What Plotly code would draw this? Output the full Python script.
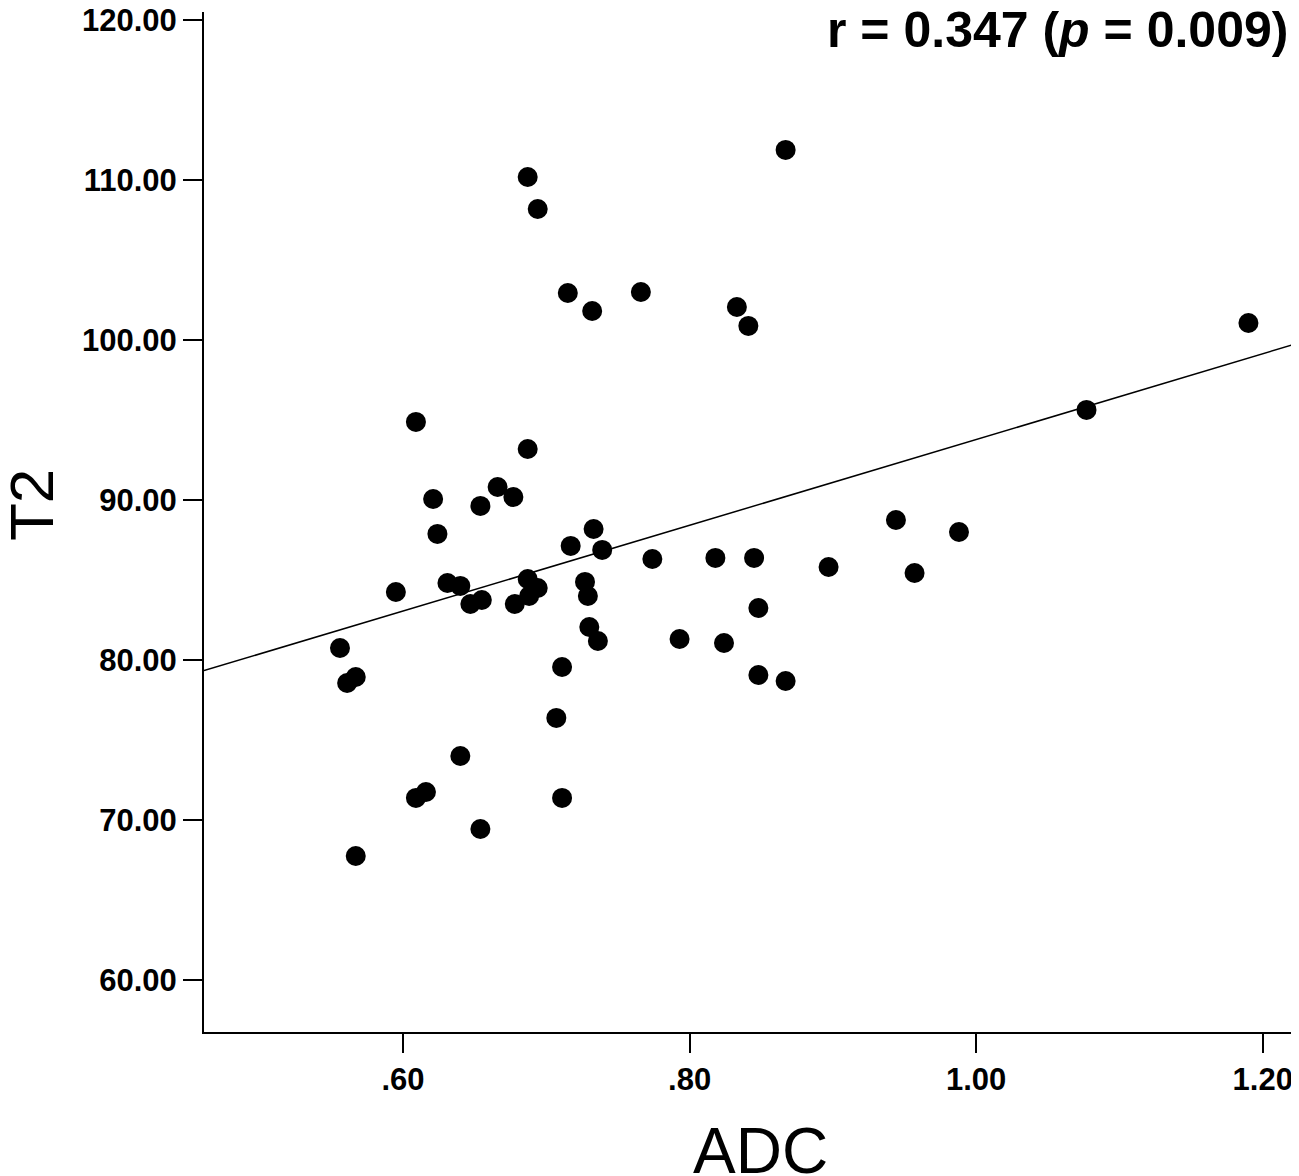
import numpy as np
import plotly.graph_objects as go

adc = [0.556, 0.561, 0.567, 0.567, 0.595, 0.609, 0.609, 0.616, 0.621, 0.624,
       0.631, 0.640, 0.640, 0.647, 0.654, 0.655, 0.654, 0.666, 0.677, 0.678,
       0.687, 0.687, 0.687, 0.688, 0.694, 0.694, 0.707, 0.711, 0.711, 0.717,
       0.715, 0.727, 0.729, 0.730, 0.732, 0.733, 0.736, 0.739, 0.766, 0.774,
       0.793, 0.818, 0.824, 0.833, 0.841, 0.845, 0.848, 0.848, 0.867, 0.867,
       0.897, 0.944, 0.957, 0.988, 1.077, 1.190]
t2 = [80.75, 78.56, 78.94, 67.75, 84.25, 94.88, 71.38, 71.75, 90.06, 87.88,
      84.81, 84.63, 74.00, 83.50, 89.63, 83.75, 69.44, 90.81, 90.19, 83.50,
      110.19, 93.19, 85.06, 84.00, 84.50, 108.19, 76.38, 79.56, 71.38, 87.13,
      102.94, 84.88, 84.00, 82.06, 101.81, 88.19, 81.19, 86.88, 103.00, 86.31,
      81.31, 86.38, 81.06, 102.06, 100.88, 86.38, 83.25, 79.06, 78.69, 111.88,
      85.81, 88.75, 85.44, 88.00, 95.63, 101.06]

x_ticks = [0.6, 0.8, 1.0, 1.2]
x_labels = [".60", ".80", "1.00", "1.20"]
y_ticks = [60, 70, 80, 90, 100, 110, 120]
y_labels = ["60.00", "70.00", "80.00", "90.00", "100.00", "110.00", "120.00"]
annotation_text = "r = 0.347 (<i>p</i> = 0.009)"
x_title = "ADC"
y_title = "T2"

x_range = [0.4611, 1.2239]
y_range = [56.75, 120.5]

slope, intercept = np.polyfit(adc, t2, 1)
fit_x = np.array(x_range)
fit_y = slope * fit_x + intercept

fig = go.Figure()
fig.add_trace(go.Scatter(x=fit_x, y=fit_y, mode="lines",
                         line=dict(color="black", width=1.5), showlegend=False))
fig.add_trace(go.Scatter(x=adc, y=t2, mode="markers",
                         marker=dict(color="black", size=20, line=dict(width=0)),
                         showlegend=False))

tickfont = dict(family="Liberation Sans, Arial, sans-serif",
                size=31, color="black", weight="bold")

axis_common = dict(showline=True, linecolor="black", linewidth=2,
                   ticks="outside", ticklen=19, tickwidth=2, tickcolor="black",
                   showgrid=False, zeroline=False, tickfont=tickfont,
                   ticklabeloverflow="allow", automargin=False)

fig.update_layout(
    width=1291, height=1168,
    margin=dict(l=196, r=2, t=4, b=144),
    paper_bgcolor="white", plot_bgcolor="white",
    xaxis=dict(range=x_range, tickvals=x_ticks, ticktext=x_labels, **axis_common),
    yaxis=dict(range=y_range, tickvals=y_ticks, ticktext=y_labels, **axis_common),
    annotations=[
        dict(text=annotation_text, xref="paper", yref="paper",
             x=0.9936, y=1.0, xanchor="right", yanchor="middle", yshift=-18,
             showarrow=False,
             font=dict(family="Liberation Sans", size=50, color="black", weight="bold")),
        dict(text=x_title, xref="paper", yref="paper",
             x=0.5, y=0.0, xanchor="center", yanchor="middle", xshift=10, yshift=-119,
             showarrow=False,
             font=dict(family="Liberation Sans", size=64, color="black")),
        dict(text=y_title, xref="paper", yref="paper", textangle=-90,
             x=0.0, y=0.5, xanchor="center", yanchor="middle", xshift=-173, yshift=17,
             showarrow=False,
             font=dict(family="Liberation Sans", size=62, color="black")),
    ],
)

fig.write_html("out.html")
